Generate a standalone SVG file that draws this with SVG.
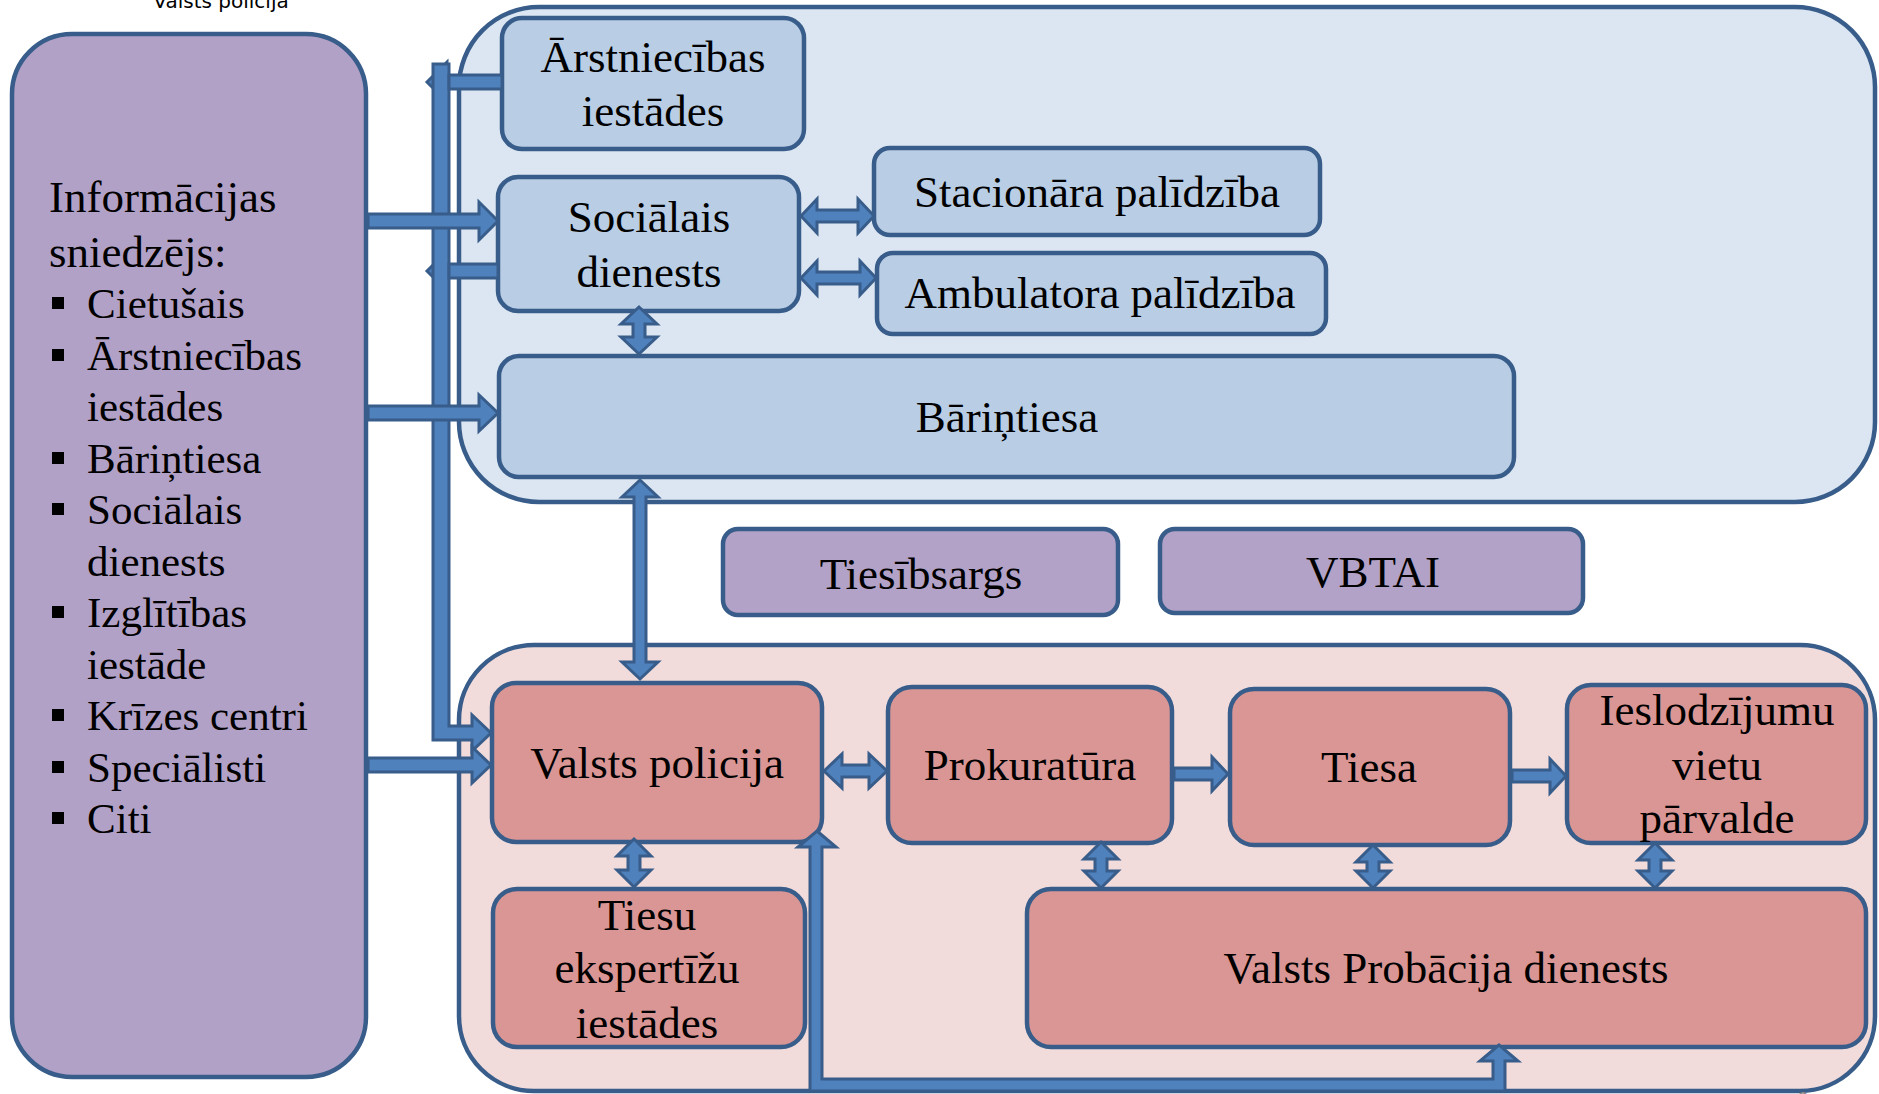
<svg xmlns="http://www.w3.org/2000/svg" width="1879" height="1094" viewBox="0 0 1879 1094">
<style>
.box{stroke:#385D8A;stroke-width:4.5}
.cb{fill:#DCE6F2}
.cr{fill:#F2DCDB}
.nb{fill:#B9CDE5}
.nr{fill:#D99694}
.np{fill:#B3A2C7}
.t{font-family:"Liberation Serif","Times New Roman",serif;font-size:45px;fill:#000;text-anchor:middle}
.l{font-family:"Liberation Serif","Times New Roman",serif;font-size:45px;fill:#000}
.b{font-family:"Liberation Serif","Times New Roman",serif;font-size:43px;fill:#000}
.arr{fill:#4F81BD;stroke:#385D8A;stroke-width:3;stroke-linejoin:miter}
</style>
<rect width="1879" height="1094" fill="#FFFFFF"/>
<text x="221" y="8" font-family="DejaVu Sans, sans-serif" font-size="20" text-anchor="middle" fill="#000">Valsts policija</text>

<g id="container-upper"><rect class="box cb" x="459" y="7" width="1416" height="495" rx="80"/></g>
<g id="container-lower"><rect class="box cr" x="459" y="645" width="1416" height="446" rx="75"/></g>
<text x="1797" y="1106" font-family="Liberation Sans, sans-serif" font-size="20" fill="#888">6</text>

<g id="informacijas-sniedzejs">
<rect class="box" fill="#B2A1C7" x="12" y="34" width="354" height="1043" rx="60"/>
<text class="l" x="49" y="212">Informācijas</text>
<text class="l" x="49" y="267">sniedzējs:</text>
<g fill="#000">
<rect x="52" y="297" width="12" height="12"/>
<rect x="52" y="349" width="12" height="12"/>
<rect x="52" y="452" width="12" height="12"/>
<rect x="52" y="503" width="12" height="12"/>
<rect x="52" y="606" width="12" height="12"/>
<rect x="52" y="709" width="12" height="12"/>
<rect x="52" y="761" width="12" height="12"/>
<rect x="52" y="812" width="12" height="12"/>
</g>
<text class="b" x="87" y="318">Cietušais</text>
<text class="b" x="87" y="370">Ārstniecības</text>
<text class="b" x="87" y="421">iestādes</text>
<text class="b" x="87" y="473">Bāriņtiesa</text>
<text class="b" x="87" y="524">Sociālais</text>
<text class="b" x="87" y="576">dienests</text>
<text class="b" x="87" y="627">Izglītības</text>
<text class="b" x="87" y="679">iestāde</text>
<text class="b" x="87" y="730">Krīzes centri</text>
<text class="b" x="87" y="782">Speciālisti</text>
<text class="b" x="87" y="833">Citi</text>
</g>

<g id="arstniecibas-iestades"><rect class="box nb" x="502" y="18" width="302" height="131" rx="20"/>
<text class="t" x="653" y="72">Ārstniecības</text><text class="t" x="653" y="126">iestādes</text></g>
<g id="socialais-dienests"><rect class="box nb" x="498" y="177" width="301" height="134" rx="20"/>
<text class="t" x="649" y="232">Sociālais</text><text class="t" x="649" y="287">dienests</text></g>
<g id="stacionara-palidziba"><rect class="box nb" x="874" y="148" width="446" height="87" rx="16"/>
<text class="t" x="1097" y="207">Stacionāra palīdzība</text></g>
<g id="ambulatora-palidziba"><rect class="box nb" x="877" y="253" width="449" height="81" rx="16"/>
<text class="t" x="1100" y="308">Ambulatora palīdzība</text></g>
<g id="barintiesa"><rect class="box nb" x="499" y="356" width="1015" height="121" rx="20"/>
<text class="t" x="1007" y="432">Bāriņtiesa</text></g>
<g id="tiesibsargs"><rect class="box np" x="723" y="529" width="395" height="86" rx="15"/>
<text class="t" x="921" y="589">Tiesībsargs</text></g>
<g id="vbtai"><rect class="box np" x="1160" y="529" width="423" height="84" rx="15"/>
<text class="t" x="1373" y="587">VBTAI</text></g>
<g id="valsts-policija"><rect class="box nr" x="492" y="683" width="330" height="159" rx="24"/>
<text class="t" x="657" y="778">Valsts policija</text></g>
<g id="prokuratura"><rect class="box nr" x="888" y="687" width="284" height="156" rx="24"/>
<text class="t" x="1030" y="780">Prokuratūra</text></g>
<g id="tiesa"><rect class="box nr" x="1230" y="689" width="280" height="156" rx="24"/>
<text class="t" x="1369" y="782">Tiesa</text></g>
<g id="ieslodzijumu-vietu-parvalde"><rect class="box nr" x="1567" y="685" width="299" height="158" rx="24"/>
<text class="t" x="1717" y="725">Ieslodzījumu</text><text class="t" x="1717" y="780">vietu</text><text class="t" x="1717" y="833">pārvalde</text></g>
<g id="tiesu-ekspertizu-iestades"><rect class="box nr" x="493" y="889" width="312" height="158" rx="24"/>
<text class="t" x="647" y="930">Tiesu</text><text class="t" x="647" y="983">ekspertīžu</text><text class="t" x="647" y="1038">iestādes</text></g>
<g id="valsts-probacija-dienests"><rect class="box nr" x="1027" y="889" width="839" height="158" rx="24"/>
<text class="t" x="1446" y="983">Valsts Probācija dienests</text></g>

<g id="connectors">
<polygon class="arr" points="427,82 447,62 447,102"/>
<polygon class="arr" points="427,271 447,251 447,291"/>
<polygon class="arr" points="433,64 449,64 449,726 472,726 472,715 491,733 472,751 472,740 433,740"/>
<rect class="arr" x="449" y="75" width="53" height="14"/>
<rect class="arr" x="449" y="264" width="49" height="14"/>
<polygon class="arr" points="368,214 479,214 479,202 498,221 479,240 479,228 368,228"/>
<polygon class="arr" points="368,406 479,406 479,395 498,413 479,431 479,420 368,420"/>
<polygon class="arr" points="368,758 472,758 472,747 491,765 472,783 472,772 368,772"/>
<polygon class="arr" points="801,216 817,199 817,210 858,210 858,199 874,216 858,233 858,222 817,222 817,233"/>
<polygon class="arr" points="801,278 817,261 817,272 860,272 860,261 876,278 860,295 860,284 817,284 817,295"/>
<polygon class="arr" points="639,307 657,324 645,324 645,337 657,337 639,354 621,337 633,337 633,324 621,324"/>
<polygon class="arr" points="640,480 658,497 646,497 646,662 658,662 640,679 622,662 634,662 634,497 622,497"/>
<polygon class="arr" points="824,771 842,754 842,765 869,765 869,754 887,771 869,788 869,777 842,777 842,788"/>
<polygon class="arr" points="1174,768 1212,768 1212,757 1228,774 1212,791 1212,780 1174,780"/>
<polygon class="arr" points="1512,770 1550,770 1550,759 1566,776 1550,793 1550,782 1512,782"/>
<polygon class="arr" points="634,839 651,856 640,856 640,870 651,870 634,887 617,870 628,870 628,856 617,856"/>
<polygon class="arr" points="1101,842 1118,859 1107,859 1107,871 1118,871 1101,888 1084,871 1095,871 1095,859 1084,859"/>
<polygon class="arr" points="1373,845 1390,862 1379,862 1379,871 1390,871 1373,888 1356,871 1367,871 1367,862 1356,862"/>
<polygon class="arr" points="1655,843 1672,860 1661,860 1661,871 1672,871 1655,888 1638,871 1649,871 1649,860 1638,860"/>
<polygon class="arr" points="817,831 836,847 822,847 822,1079 1493,1079 1493,1061 1480,1061 1499,1045 1518,1061 1505,1061 1505,1091 810,1091 810,847 798,847"/>
</g>
</svg>
